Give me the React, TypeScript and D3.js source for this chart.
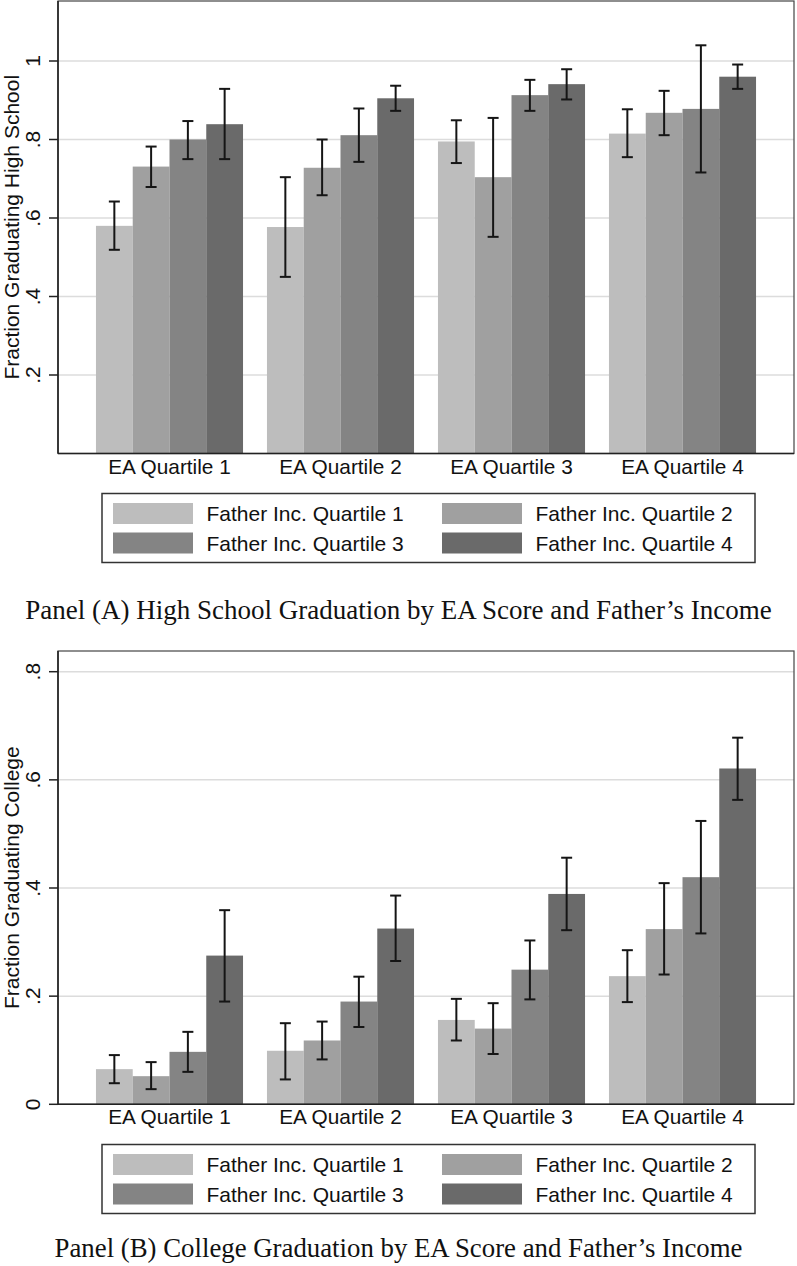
import React from "react";
import * as d3 from "d3";

const groups = ["EA Quartile 1", "EA Quartile 2", "EA Quartile 3", "EA Quartile 4"];
const series = ["Father Inc. Quartile 1", "Father Inc. Quartile 2", "Father Inc. Quartile 3", "Father Inc. Quartile 4"];
const colors = ["#bdbdbd", "#a0a0a0", "#848484", "#6a6a6a"];

// Panel A: high school graduation [group][series]
const hsValues = [
  [0.58, 0.731, 0.8, 0.839],
  [0.577, 0.728, 0.811, 0.905],
  [0.795, 0.704, 0.913, 0.941],
  [0.815, 0.868, 0.878, 0.96],
];
const hsLow = [
  [0.519, 0.679, 0.75, 0.75],
  [0.45, 0.658, 0.743, 0.873],
  [0.74, 0.552, 0.873, 0.902],
  [0.755, 0.811, 0.716, 0.929],
];
const hsHigh = [
  [0.642, 0.782, 0.847, 0.929],
  [0.704, 0.8, 0.879, 0.937],
  [0.849, 0.855, 0.952, 0.979],
  [0.877, 0.924, 1.04, 0.991],
];
const hsTicks = [0.2, 0.4, 0.6, 0.8, 1];
const hsTickLabels = [".2", ".4", ".6", ".8", "1"];

// Panel B: college graduation
const colValues = [
  [0.065, 0.052, 0.097, 0.275],
  [0.099, 0.118, 0.19, 0.325],
  [0.156, 0.14, 0.249, 0.389],
  [0.237, 0.324, 0.42, 0.621],
];
const colLow = [
  [0.039, 0.028, 0.06, 0.19],
  [0.046, 0.083, 0.143, 0.265],
  [0.118, 0.093, 0.194, 0.322],
  [0.189, 0.24, 0.316, 0.563],
];
const colHigh = [
  [0.091, 0.078, 0.134, 0.359],
  [0.15, 0.153, 0.236, 0.386],
  [0.195, 0.187, 0.303, 0.456],
  [0.285, 0.409, 0.524, 0.678],
];
const colTicks = [0, 0.2, 0.4, 0.6, 0.8];
const colTickLabels = ["0", ".2", ".4", ".6", ".8"];

const SANS = "'Liberation Sans', Arial, Helvetica, sans-serif";
const SERIF = "'Liberation Serif', 'Times New Roman', serif";

type PanelProps = {
  top: number;
  bottom: number;
  y: d3.ScaleLinear<number, number>;
  values: number[][];
  low: number[][];
  high: number[][];
  ticks: number[];
  tickLabels: string[];
  yTitle: string;
  legendTop: number;
  title: string;
  titleY: number;
  titleSize: number;
};

const LEFT = 58;
const RIGHT = 794;

function Panel(p: PanelProps) {
  const x0 = d3.scaleBand<string>().domain(groups).range([LEFT, RIGHT]).paddingInner(0.14).paddingOuter(0.222);
  const x1 = d3.scaleBand<string>().domain(series).range([0, x0.bandwidth()]).padding(0);
  const capW = 11;
  const midY = (p.top + p.bottom) / 2;
  const legendX = 102;
  const legendW = 653;
  const legendH = 69;
  const colX = [legendX + 11, legendX + 340];
  const rowY = [p.legendTop + 9.5, p.legendTop + 39];
  return (
    <g>
      {p.ticks.filter((t) => t > 0).map((t, i) => (
        <line key={"g" + i} x1={LEFT} x2={RIGHT} y1={p.y(t)} y2={p.y(t)} stroke="#dcdcdc" strokeWidth={1.5} />
      ))}
      {groups.map((g, gi) =>
        series.map((s, si) => {
          const bx = (x0(g) as number) + (x1(s) as number);
          const v = p.values[gi][si];
          return (
            <rect key={g + s} x={bx} y={p.y(v)} width={x1.bandwidth()} height={p.y(0) - p.y(v)} fill={colors[si]} />
          );
        })
      )}
      {groups.map((g, gi) =>
        series.map((s, si) => {
          const cx = (x0(g) as number) + (x1(s) as number) + x1.bandwidth() / 2;
          const lo = p.y(p.low[gi][si]);
          const hi = p.y(p.high[gi][si]);
          return (
            <g key={"e" + g + s} stroke="#151515" strokeWidth={2}>
              <line x1={cx} x2={cx} y1={lo} y2={hi} />
              <line x1={cx - capW / 2} x2={cx + capW / 2} y1={lo} y2={lo} />
              <line x1={cx - capW / 2} x2={cx + capW / 2} y1={hi} y2={hi} />
            </g>
          );
        })
      )}
      <rect x={LEFT} y={p.top} width={RIGHT - LEFT} height={p.bottom - p.top} fill="none" stroke="#444" strokeWidth={1.2} />
      <line x1={LEFT} x2={RIGHT} y1={p.bottom} y2={p.bottom} stroke="#222" strokeWidth={1.6} />
      <line x1={LEFT} x2={LEFT} y1={p.top} y2={p.bottom} stroke="#222" strokeWidth={1.6} />
      {p.ticks.map((t, i) => (
        <g key={"t" + i}>
          <line x1={LEFT - 9} x2={LEFT} y1={p.y(t)} y2={p.y(t)} stroke="#222" strokeWidth={1.5} />
          <text
            transform={`translate(40,${p.y(t)}) rotate(-90)`}
            textAnchor="middle"
            fontFamily={SANS}
            fontSize={21}
            fill="#111"
          >
            {p.tickLabels[i]}
          </text>
        </g>
      ))}
      <text transform={`translate(18.5,${midY}) rotate(-90)`} textAnchor="middle" fontFamily={SANS} fontSize={21} fill="#111">
        {p.yTitle}
      </text>
      {groups.map((g) => (
        <text key={"x" + g} x={(x0(g) as number) + x0.bandwidth() / 2} y={p.bottom + 20} textAnchor="middle" fontFamily={SANS} fontSize={20.8} fill="#111">
          {g}
        </text>
      ))}
      <rect x={legendX} y={p.legendTop} width={legendW} height={legendH} fill="#fff" stroke="#333" strokeWidth={1.5} />
      {series.map((s, i) => {
        const cx = colX[i % 2];
        const ry = rowY[Math.floor(i / 2)];
        return (
          <g key={"l" + s}>
            <rect x={cx} y={ry} width={80} height={21} fill={colors[i]} />
            <text x={cx + 93.5} y={ry + 18} fontFamily={SANS} fontSize={21} fill="#111">
              {s}
            </text>
          </g>
        );
      })}
      <text x={398.5} y={p.titleY} textAnchor="middle" fontFamily={SERIF} fontSize={p.titleSize} fill="#111">
        {p.title}
      </text>
    </g>
  );
}

export default function App() {
  const yA = d3.scaleLinear().domain([0, 1]).range([453.5, 61]);
  const yB = d3.scaleLinear().domain([0, 0.8]).range([1104.3, 671.7]);
  return (
    <svg width={797} height={1266} style={{ position: "absolute", left: 0, top: 0, background: "#fff" }}>
      <rect x={0} y={0} width={797} height={1266} fill="#fff" />
      <Panel
        top={1}
        bottom={453.5}
        y={yA}
        values={hsValues}
        low={hsLow}
        high={hsHigh}
        ticks={hsTicks}
        tickLabels={hsTickLabels}
        yTitle="Fraction Graduating High School"
        legendTop={493.5}
        title="Panel (A) High School Graduation by EA Score and Father’s Income"
        titleY={619}
        titleSize={27}
      />
      <Panel
        top={651}
        bottom={1104.3}
        y={yB}
        values={colValues}
        low={colLow}
        high={colHigh}
        ticks={colTicks}
        tickLabels={colTickLabels}
        yTitle="Fraction Graduating College"
        legendTop={1144.5}
        title="Panel (B) College Graduation by EA Score and Father’s Income"
        titleY={1257}
        titleSize={26.8}
      />
    </svg>
  );
}
